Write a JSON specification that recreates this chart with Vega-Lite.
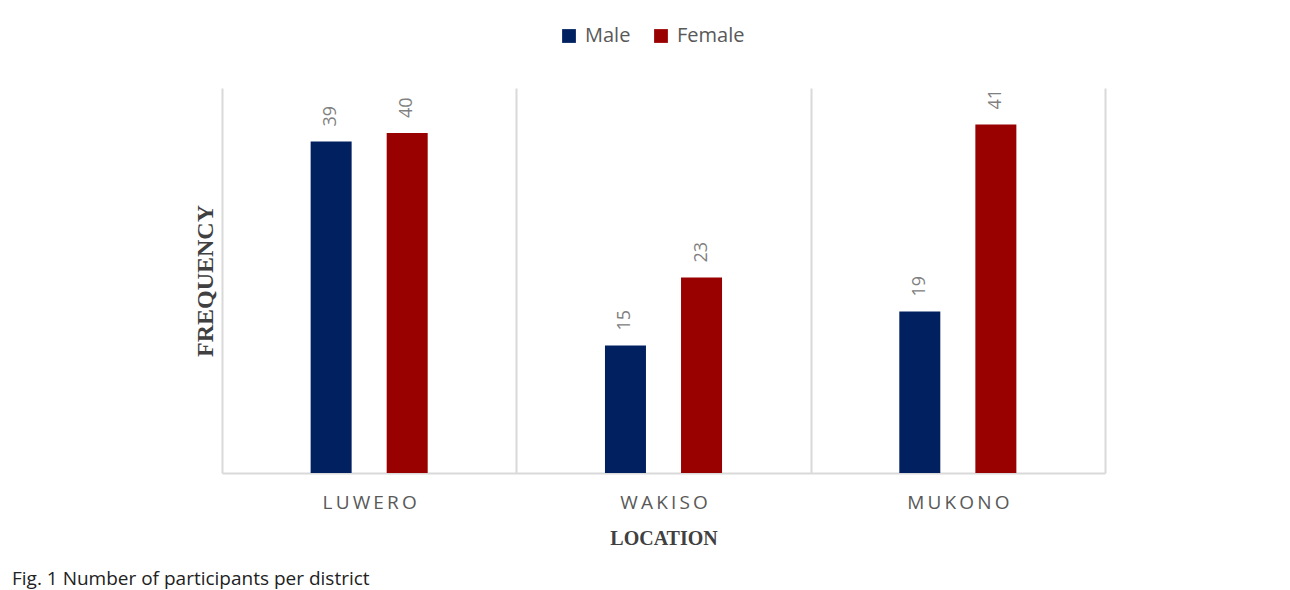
{
  "$schema": "https://vega.github.io/schema/vega-lite/v6.json",
  "autosize": {"type": "none"},
  "padding": {"left": 222, "top": 88, "right": 185, "bottom": 117},
  "width": 883,
  "height": 385,
  "background": "white",
  "title": {
    "text": "Fig. 1 Number of participants per district",
    "orient": "bottom",
    "anchor": "start",
    "frame": "group",
    "dx": -210,
    "offset": 22,
    "font": "Open Sans",
    "fontSize": 19,
    "fontWeight": "normal",
    "color": "#222222"
  },
  "data": {
    "values": [
      {"district": "LUWERO", "sex": "Male", "count": 39},
      {"district": "LUWERO", "sex": "Female", "count": 40},
      {"district": "WAKISO", "sex": "Male", "count": 15},
      {"district": "WAKISO", "sex": "Female", "count": 23},
      {"district": "MUKONO", "sex": "Male", "count": 19},
      {"district": "MUKONO", "sex": "Female", "count": 41}
    ]
  },
  "encoding": {
    "x": {
      "field": "district",
      "type": "nominal",
      "sort": null,
      "scale": {"paddingInner": 0, "paddingOuter": 0},
      "axis": {
        "title": "LOCATION",
        "titleFont": "Liberation Serif",
        "titleFontSize": 20,
        "titleFontWeight": "bold",
        "titleColor": "#404040",
        "titlePadding": 16,
        "labelAngle": 0,
        "labelFont": "Open Sans",
        "labelFontSize": 19,
        "labelColor": "#595959",
        "labelPadding": 20,
        "labelExpr": "join(split(datum.label, ''), '\u2009')",
        "ticks": false,
        "domainColor": "#d9d9d9",
        "domainWidth": 2,
        "grid": true,
        "tickBand": "extent",
        "gridColor": "#d9d9d9",
        "gridWidth": 2
      }
    },
    "xOffset": {
      "field": "sex",
      "type": "nominal",
      "sort": ["Male", "Female"],
      "scale": {"paddingInner": 0.13, "paddingOuter": 1}
    },
    "y": {
      "field": "count",
      "type": "quantitative",
      "scale": {"domain": [0, 45.3], "nice": false},
      "axis": {
        "title": "FREQUENCY",
        "titleFont": "Liberation Serif",
        "titleFontSize": 24,
        "titleFontWeight": "bold",
        "titleColor": "#404040",
        "titlePadding": 5,
        "labels": false,
        "ticks": false,
        "domain": false,
        "grid": false
      }
    }
  },
  "layer": [
    {
      "mark": {"type": "bar", "width": 41},
      "encoding": {
        "color": {
          "field": "sex",
          "type": "nominal",
          "sort": ["Male", "Female"],
          "scale": {"domain": ["Male", "Female"], "range": ["#002060", "#990000"]},
          "legend": {
            "title": null,
            "orient": "none",
            "legendX": 337,
            "legendY": -62,
            "direction": "horizontal",
            "symbolType": "square",
            "symbolSize": 190,
            "symbolStrokeWidth": 0,
            "labelFont": "Open Sans",
            "labelFontSize": 20,
            "labelColor": "#595959",
            "columnPadding": 20,
            "labelOffset": 6
          }
        }
      }
    },
    {
      "mark": {
        "type": "text",
        "angle": 270,
        "align": "left",
        "baseline": "middle",
        "dx": 15,
        "font": "Open Sans",
        "fontSize": 18,
        "color": "#808080"
      },
      "encoding": {
        "text": {"field": "count", "type": "quantitative"}
      }
    }
  ],
  "config": {
    "view": {"stroke": null}
  }
}
